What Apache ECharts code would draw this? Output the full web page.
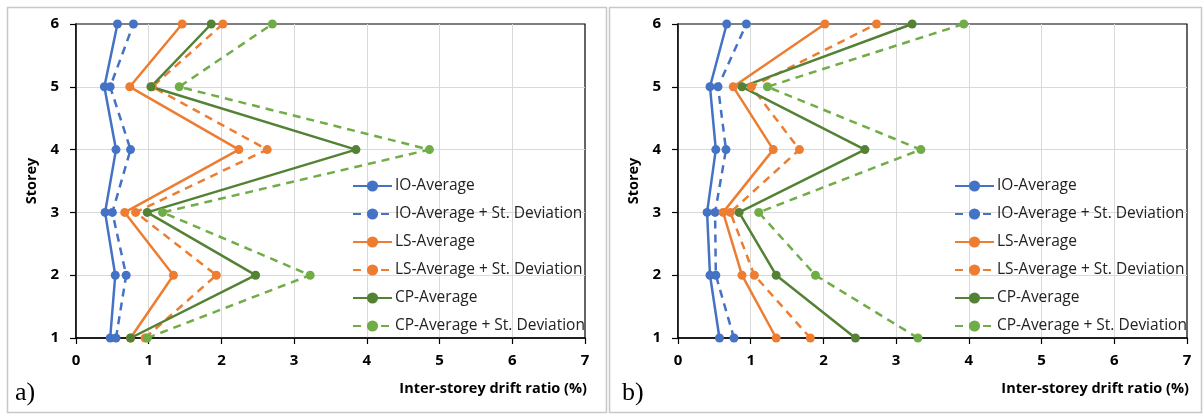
<!DOCTYPE html>
<html>
<head>
<meta charset="UTF-8">
<title>Inter-storey drift ratio</title>
<script src="https://cdn.jsdelivr.net/npm/echarts@6/dist/echarts.min.js"></script>
<style>
  html, body { margin: 0; padding: 0; background: #fff; }
  #chart { width: 1203px; height: 415px; }
</style>
</head>
<body>
<div id="chart"></div>
<script>
// storeys (y) and drift ratios (x, %)
var storeys = [1, 2, 3, 4, 5, 6];
var seriesNames = ['IO-Average', 'IO-Average + St. Deviation', 'LS-Average',
                   'LS-Average + St. Deviation', 'CP-Average', 'CP-Average + St. Deviation'];

// panel a)
var aIoAvg = [0.47, 0.54, 0.40, 0.55, 0.39, 0.57];
var aIoSd  = [0.55, 0.69, 0.50, 0.75, 0.47, 0.79];
var aLsAvg = [0.75, 1.34, 0.67, 2.24, 0.74, 1.46];
var aLsSd  = [0.95, 1.93, 0.82, 2.63, 1.05, 2.02];
var aCpAvg = [0.75, 2.47, 0.98, 3.85, 1.03, 1.86];
var aCpSd  = [0.98, 3.22, 1.19, 4.86, 1.42, 2.70];

// panel b)
var bIoAvg = [0.57, 0.44, 0.40, 0.52, 0.44, 0.67];
var bIoSd  = [0.77, 0.52, 0.51, 0.66, 0.55, 0.94];
var bLsAvg = [1.35, 0.88, 0.62, 1.31, 0.76, 2.02];
var bLsSd  = [1.82, 1.05, 0.72, 1.67, 1.01, 2.73];
var bCpAvg = [2.44, 1.35, 0.84, 2.57, 0.88, 3.22];
var bCpSd  = [3.30, 1.89, 1.11, 3.34, 1.23, 3.93];

var xTicks = [0, 1, 2, 3, 4, 5, 6, 7];

var colors = ['#4472C4', '#4472C4', '#ED7D31', '#ED7D31', '#548235', '#70AD47'];
var dashed = [false, true, false, true, false, true];

var chart = echarts.init(document.getElementById('chart'));

function pairs(vals) {
    return vals.map(function (v, i) { return [v, storeys[i]]; });
}

function makeSeries(sets, gridIdx) {
    return sets.map(function (vals, i) {
        return {
            name: seriesNames[i],
            type: 'line',
            xAxisIndex: gridIdx,
            yAxisIndex: gridIdx,
            data: pairs(vals),
            symbol: 'circle',
            symbolSize: 9,
            color: colors[i],
            lineStyle: { width: 2.5, color: colors[i], type: dashed[i] ? [8, 6] : 'solid' },
            itemStyle: { color: colors[i] },
            emphasis: { disabled: true }
        };
    });
}

function xAx(gridIdx) {
    return {
        gridIndex: gridIdx,
        type: 'value', min: 0, max: 7, interval: 1,
        axisLine: { lineStyle: { color: '#000', width: 1.5 } },
        axisTick: { show: true, length: 6, lineStyle: { color: '#000', width: 1.2 } },
        axisLabel: {
            margin: 15, color: '#000', fontWeight: 'bold', fontSize: 15,
            fontFamily: 'Open Sans',
            formatter: function (v) { return xTicks.indexOf(v) >= 0 ? String(v) : ''; }
        },
        splitLine: { show: true, showMaxLine: false, lineStyle: { color: '#d9d9d9', width: 1 } },
        name: 'Inter-storey drift ratio (%)',
        nameLocation: 'end',
        nameGap: 2,
        nameTextStyle: {
            color: '#000', fontWeight: 'bold', fontSize: 14.5, fontFamily: 'Open Sans',
            align: 'right', verticalAlign: 'top', padding: [43, 0, 0, 0]
        }
    };
}

function yAx(gridIdx) {
    return {
        gridIndex: gridIdx,
        type: 'value', min: 1, max: 6, interval: 1,
        axisLine: { show: true, lineStyle: { color: '#000', width: 1.5 } },
        axisTick: { show: true, length: 6, lineStyle: { color: '#000', width: 1.2 } },
        axisLabel: { margin: 17, color: '#000', fontWeight: 'bold', fontSize: 15, fontFamily: 'Open Sans' },
        splitLine: { show: true, showMinLine: false, showMaxLine: false, lineStyle: { color: '#d9d9d9', width: 1 } },
        name: 'Storey',
        nameLocation: 'middle',
        nameGap: 37,
        nameTextStyle: { color: '#000', fontWeight: 'bold', fontSize: 14.5, fontFamily: 'Open Sans' }
    };
}

function legendAt(left) {
    return {
        data: seriesNames,
        orient: 'vertical',
        left: left,
        top: 178,
        padding: 0,
        itemWidth: 39,
        itemHeight: 14,
        itemGap: 12,
        textStyle: { color: '#222', fontSize: 15.5, fontFamily: 'Open Sans', padding: [0, 0, 0, -2] },
        selectedMode: false
    };
}

var option = {
    animation: false,
    backgroundColor: '#fff',
    grid: [
        { left: 76, right: 618, top: 24, bottom: 77, show: true, borderColor: '#000', borderWidth: 1.2, backgroundColor: 'transparent' },
        { left: 678, right: 16, top: 24, bottom: 77, show: true, borderColor: '#000', borderWidth: 1.2, backgroundColor: 'transparent' }
    ],
    xAxis: [xAx(0), xAx(1)],
    yAxis: [yAx(0), yAx(1)],
    legend: [legendAt(352), legendAt(954)],
    series: makeSeries([aIoAvg, aIoSd, aLsAvg, aLsSd, aCpAvg, aCpSd], 0)
        .concat(makeSeries([bIoAvg, bIoSd, bLsAvg, bLsSd, bCpAvg, bCpSd], 1)),
    graphic: [
        { type: 'rect', shape: { x: 7.5, y: 7.5, width: 599, height: 405 }, style: { fill: 'none', stroke: '#c8c8c8', lineWidth: 1.5 }, silent: true, z: -10 },
        { type: 'rect', shape: { x: 609.5, y: 7.5, width: 592, height: 405 }, style: { fill: 'none', stroke: '#c8c8c8', lineWidth: 1.5 }, silent: true, z: -10 },
        { type: 'text', left: 15, top: 380, style: { text: 'a)', font: '26px "Liberation Serif"', fill: '#000' } },
        { type: 'text', left: 622, top: 380, style: { text: 'b)', font: '26px "Liberation Serif"', fill: '#000' } }
    ]
};

chart.setOption(option);
</script>
</body>
</html>
